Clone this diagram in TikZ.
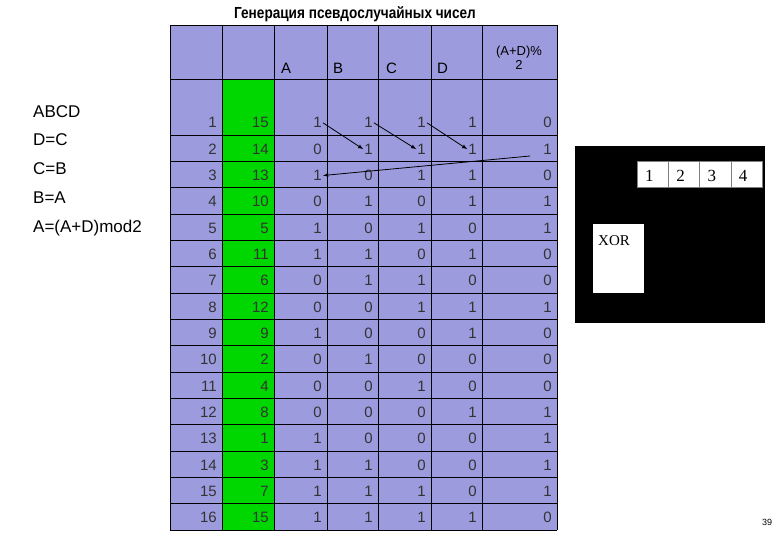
\documentclass[tikz,border=0pt]{standalone}
\usepackage{fontspec}
\setmainfont{Liberation Sans}
\newfontfamily\tnr{Liberation Serif}
\begin{document}
\begin{tikzpicture}[x=1pt,y=-1pt,
  cell/.style={anchor=base east,inner sep=1pt,font=\fontsize{15}{15}\selectfont,text=black!80},
  hdr/.style={anchor=base west,inner sep=0pt,font=\fontsize{15}{15}\selectfont},
  lft/.style={anchor=base west,inner sep=0pt,font=\fontsize{17}{17}\selectfont},
  arr/.style={->,>=latex,thick}]
\useasboundingbox (0,0) rectangle (780,540);
\fill[white] (0,0) rectangle (780,540);
\node[font=\fontsize{16}{16}\selectfont\bfseries,inner sep=0pt,xscale=0.85] (title) at (355,14) {Генерация псевдослучайных чисел};
% table fill
\fill[fill={rgb,255:red,155;green,155;blue,222}] (170,25) rectangle (557,530);
\fill[fill={rgb,255:red,0;green,215;blue,0}] (222,79) rectangle (274,530);
% grid
\foreach \x in {170,222,274,327,378,431,482,557} \draw (\x,25) -- (\x,530);
\draw (170,25) -- (557,25);
\draw (170,79) -- (557,79);
\foreach \i in {0,...,15} \draw (170,{135+\i*26.333}) -- (557,{135+\i*26.333});
% headers
\node[hdr] (hA) at (281,74) {A};
\node[hdr] (hB) at (333,74) {B};
\node[hdr] (hC) at (386,74) {C};
\node[hdr] (hD) at (437,74) {D};
\node[inner sep=0pt,font=\fontsize{13}{13}\selectfont,align=center] (hS) at (519,58) {(A+D)\%\\[1pt]2};
% data
\foreach [count=\r] \row in {{1,15,1,1,1,1,0},{2,14,0,1,1,1,1},{3,13,1,0,1,1,0},{4,10,0,1,0,1,1},{5,5,1,0,1,0,1},{6,11,1,1,0,1,0},{7,6,0,1,1,0,0},{8,12,0,0,1,1,1},{9,9,1,0,0,1,0},{10,2,0,1,0,0,0},{11,4,0,0,1,0,0},{12,8,0,0,0,1,1},{13,1,1,0,0,0,1},{14,3,1,1,0,0,1},{15,7,1,1,1,0,1},{16,15,1,1,1,1,0}}{
  \foreach \v [count=\c] in \row {
    \pgfmathsetmacro{\xr}{{222,274,327,378,431,482,557}[\c-1]-4}
    \node[cell] (c-\r-\c) at (\xr,{135+(\r-1)*26.333-7}) {\v};
  }
}
% arrows
\draw[arr] (c-1-3.east) -- (c-2-4.west);
\draw[arr] (c-1-4.east) -- (c-2-5.west);
\draw[arr] (c-1-5.east) -- (c-2-6.west);
\coordinate (s) at (530,156);
\draw[arr] (s) -- (c-3-3.east);
% left text
\node[lft] (t1) at (33,118) {ABCD};
\node[lft] (t2) at (33,146) {D=C};
\node[lft] (t3) at (33,175) {C=B};
\node[lft] (t4) at (33,204) {B=A};
\node[lft] (t5) at (33,233) {A=(A+D)mod2};
% black box
\fill[black] (575,146) rectangle (765,323);
\fill[white] (637,161) rectangle (762,187);
\foreach \x/\n in {637/1,668.25/2,699.5/3,730.75/4}{
  \draw[gray] (\x,161) rectangle (\x+31.25,187);
  \node[font=\tnr\fontsize{17}{17}\selectfont,inner sep=0pt,anchor=base west] (n\n) at (\x+8,182) {\n};
}
\fill[white] (593,224) rectangle (644,293);
\node[font=\tnr\fontsize{15}{15}\selectfont,inner sep=0pt,anchor=base west] (xor) at (598,246) {XOR};
\node[font=\fontsize{9}{9}\selectfont,inner sep=0pt] (pg) at (767,522) {39};
\end{tikzpicture}
\end{document}
